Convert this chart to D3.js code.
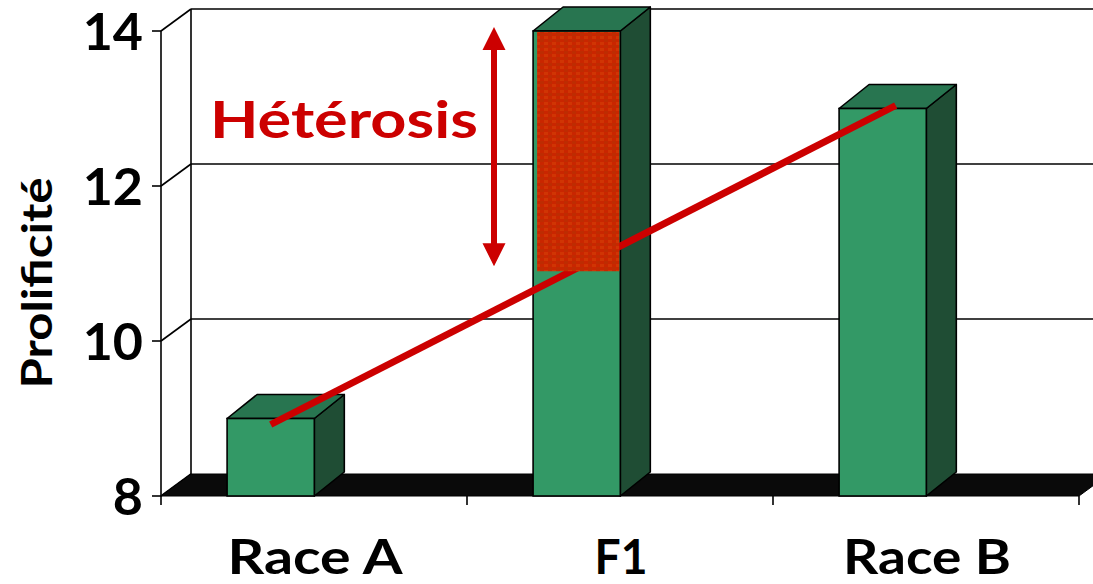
<!DOCTYPE html>
<html>
<head>
<meta charset="utf-8">
<script src="https://cdn.jsdelivr.net/npm/d3@7"></script>
<style>
  html, body { margin: 0; padding: 0; background: #fff; }
  svg { display: block; }
  text { font-family: "Comic Sans MS", "Lato", "DejaVu Sans", sans-serif; font-weight: 700; }
</style>
</head>
<body>
<svg id="chart" width="1093" height="584"></svg>
<script>
// Prolificity of two parental breeds and their F1 cross
const categories = ["Race A", "F1", "Race B"];
const prolificity = [9, 14, 13];
const yTicks = [8, 10, 12, 14];
const tickLabels = ["8", "10", "12", "14"];
// Parental line: Race A value to Race B value
const parentLine = [9, 13];
// Heterosis gain on the F1 bar: from the parental level up to the F1 value
const heterosisRange = [10.9, 14];
const heterosisLabel = "Hétérosis";
const yTitle = "Prolificité";

(function draw() {
  const W = 1093;
  const svg = d3.select("#chart");

  // Front plane of the 3D box
  const pLeft = 161, pRight = 1079, pBottom = 496, pTop = 31;
  const wallDx = 30, wallDy = -22;   // floor / wall depth
  const barDx = 30, barDy = -24;     // bar depth

  const x = d3.scaleBand().domain(categories).range([pLeft, pRight]).padding(0);
  const y = d3.scaleLinear().domain([yTicks[0], yTicks[yTicks.length - 1]]).range([pBottom, pTop]);
  const bw = x.bandwidth();
  const barLeft = c => x(c) + bw * 0.216;
  const barW = bw * 0.285;

  // Back wall: gridlines and left edge
  const wall = svg.append("g");
  wall.selectAll("line.grid").data(yTicks.slice(1)).join("line")
    .attr("x1", pLeft + wallDx).attr("x2", W + 20)
    .attr("y1", d => y(d) + wallDy).attr("y2", d => y(d) + wallDy)
    .attr("stroke", "#000").attr("stroke-width", 1.6);
  wall.append("line")
    .attr("x1", pLeft + wallDx).attr("x2", pLeft + wallDx)
    .attr("y1", y(yTicks[yTicks.length - 1]) + wallDy).attr("y2", pBottom + wallDy)
    .attr("stroke", "#000").attr("stroke-width", 1.6);
  // Side wall diagonals from front axis to back wall
  wall.selectAll("line.diag").data(yTicks).join("line")
    .attr("x1", pLeft).attr("y1", d => y(d))
    .attr("x2", pLeft + wallDx).attr("y2", d => y(d) + wallDy)
    .attr("stroke", "#000").attr("stroke-width", 1.6);

  // Floor
  svg.append("path")
    .attr("d", d3.line()([
      [pLeft, pBottom], [pLeft + wallDx, pBottom + wallDy],
      [pRight + wallDx, pBottom + wallDy], [pRight, pBottom]
    ]) + "Z")
    .attr("fill", "#0a0a0a").attr("stroke", "#000").attr("stroke-width", 1);

  // Front value axis
  const axisG = svg.append("g");
  axisG.append("line")
    .attr("x1", pLeft).attr("x2", pLeft).attr("y1", y(14)).attr("y2", pBottom)
    .attr("stroke", "#000").attr("stroke-width", 1.6);
  axisG.selectAll("line.tick").data(yTicks).join("line")
    .attr("x1", pLeft - 9).attr("x2", pLeft)
    .attr("y1", d => y(d)).attr("y2", d => y(d))
    .attr("stroke", "#000").attr("stroke-width", 1.6);
  axisG.selectAll("text").data(yTicks).join("text")
    .attr("x", pLeft - 18).attr("y", d => y(d) + 18.5)
    .attr("text-anchor", "end")
    .attr("font-size", 52)
    .attr("fill", "#000")
    .text((d, i) => tickLabels[i]);

  // Category axis ticks along the front floor edge
  const catTicks = categories.map(c => x(c)).concat([pRight]);
  svg.append("g").selectAll("line").data(catTicks).join("line")
    .attr("x1", d => d).attr("x2", d => d)
    .attr("y1", pBottom).attr("y2", pBottom + 9)
    .attr("stroke", "#000").attr("stroke-width", 1.6);

  // Category labels
  const catWidths = { "Race A": 175, "F1": 53, "Race B": 168 };
  svg.append("g").selectAll("text").data(categories).join("text")
    .attr("x", c => x(c) + bw / 2 + 1)
    .attr("y", 574)
    .attr("text-anchor", "middle")
    .attr("font-size", 47)
    .attr("textLength", c => catWidths[c])
    .attr("lengthAdjust", "spacingAndGlyphs")
    .attr("fill", "#000")
    .text(c => c);

  // 3D bars
  const data = categories.map((c, i) => ({ c, v: prolificity[i] }));
  const bars = svg.append("g").selectAll("g").data(data).join("g");
  bars.append("path") // side face
    .attr("d", d => {
      const x1 = barLeft(d.c) + barW;
      return d3.line()([[x1, pBottom], [x1, y(d.v)], [x1 + barDx, y(d.v) + barDy], [x1 + barDx, pBottom + barDy]]) + "Z";
    })
    .attr("fill", "#1f4d34").attr("stroke", "#000").attr("stroke-width", 1.6).attr("stroke-linejoin", "round");
  bars.append("path") // top face
    .attr("d", d => {
      const x0 = barLeft(d.c), x1 = x0 + barW, yt = y(d.v);
      return d3.line()([[x0, yt], [x0 + barDx, yt + barDy], [x1 + barDx, yt + barDy], [x1, yt]]) + "Z";
    })
    .attr("fill", "#287550").attr("stroke", "#000").attr("stroke-width", 1.6).attr("stroke-linejoin", "round");
  bars.append("rect") // front face
    .attr("x", d => barLeft(d.c)).attr("y", d => y(d.v))
    .attr("width", barW).attr("height", d => pBottom - y(d.v))
    .attr("fill", "#339966").attr("stroke", "#000").attr("stroke-width", 1.6);

  // Line joining the two parental breeds
  const aMid = barLeft(categories[0]) + barW / 2;
  const bMid = barLeft(categories[2]) + barW / 2;
  svg.append("line")
    .attr("x1", aMid).attr("y1", y(parentLine[0]) + 6)
    .attr("x2", bMid + 13).attr("y2", y(parentLine[1]) - 3)
    .attr("stroke", "#cc0000").attr("stroke-width", 7);

  // Textured heterosis block on the F1 bar
  const defs = svg.append("defs");
  const pat = defs.append("pattern").attr("id", "gain")
    .attr("patternUnits", "userSpaceOnUse").attr("width", 8).attr("height", 6);
  pat.append("rect").attr("width", 8).attr("height", 6).attr("fill", "#c92600");
  pat.append("rect").attr("x", 0).attr("y", 0).attr("width", 4).attr("height", 3).attr("fill", "#d03504");
  pat.append("rect").attr("x", 4).attr("y", 3).attr("width", 4).attr("height", 3).attr("fill", "#be2c02");

  const f1 = categories[1];
  svg.append("rect")
    .attr("x", barLeft(f1) + 4).attr("y", y(heterosisRange[1]) + 1)
    .attr("width", barW - 5)
    .attr("height", y(heterosisRange[0]) - y(heterosisRange[1]) - 1)
    .attr("fill", "url(#gain)");

  // Double-headed arrow marking the heterosis gain
  const ax = 494, yTopA = y(heterosisRange[1]) - 4, yBotA = y(heterosisRange[0]) - 5;
  const hw = 11.5, hl = 23, sw = 3;
  svg.append("path")
    .attr("d", d3.line()([
      [ax, yTopA], [ax + hw, yTopA + hl], [ax + sw, yTopA + hl],
      [ax + sw, yBotA - hl], [ax + hw, yBotA - hl], [ax, yBotA],
      [ax - hw, yBotA - hl], [ax - sw, yBotA - hl], [ax - sw, yTopA + hl],
      [ax - hw, yTopA + hl]
    ]) + "Z")
    .attr("fill", "#cc0000");

  svg.append("text")
    .attr("x", 210).attr("y", 138)
    .attr("font-size", 52)
    .attr("textLength", 268)
    .attr("lengthAdjust", "spacingAndGlyphs")
    .attr("fill", "#cc0000")
    .text(heterosisLabel);

  // Value axis title
  svg.append("text")
    .attr("transform", "translate(52,283) rotate(-90)")
    .attr("text-anchor", "middle")
    .attr("font-size", 42)
    .attr("textLength", 211)
    .attr("lengthAdjust", "spacingAndGlyphs")
    .attr("fill", "#000")
    .text(yTitle);
})();
</script>
</body>
</html>
